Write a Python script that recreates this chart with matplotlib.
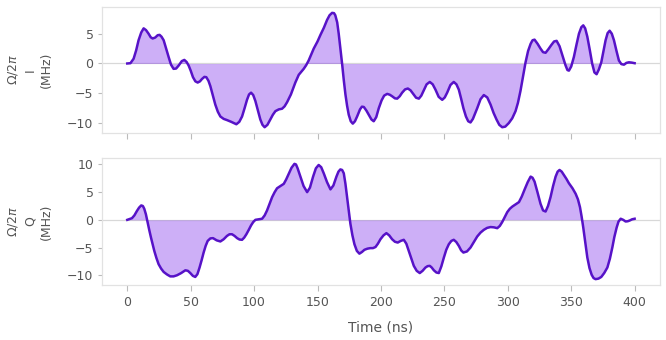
import matplotlib
matplotlib.use("Agg")
import matplotlib.pyplot as plt

time_i = [0, 2.5, 5, 7, 8.9, 11, 12.9, 14.8, 16.8, 18.5, 20, 22, 24, 25.5, 27, 28.7,
          30.5, 32.6, 34.5, 36.5, 38.5, 40.5, 43, 45, 46.8, 48.4, 50, 51.8, 53.7,
          55.5, 57.3, 58.9, 60.8, 62.3, 64, 65.5, 67.5, 69.4, 71.4, 73.4, 76, 78.6,
          82, 86, 88.3, 90.5, 92.5, 94.4, 96, 97.6, 99.3, 101, 103, 104.9, 106.6,
          108.3, 110.5, 112.8, 114.8, 116.8, 119.5, 122, 124, 126, 129, 132.5,
          135.2, 139.1, 141, 143, 147, 150, 152.3, 155, 157.5, 159.5, 161.5, 163,
          164, 165.5, 166.7, 168, 169.4, 170.7, 172, 173.3, 174.6, 176.2, 177.8,
          179.5, 181.2, 183.5, 185, 186.5, 188.5, 190.4, 192.5, 194.3, 196.3,
          198.3, 200.5, 202.5, 204.9, 207, 208.8, 211, 212.8, 214.8, 216.7, 219,
          221.2, 223.3, 225.4, 227.7, 229.9, 231.8, 233.8, 236, 238.5, 240.8, 243,
          245.5, 248.3, 250.3, 252.2, 254.8, 257.4, 259.5, 261.4, 263.2, 265, 267,
          268.8, 270.6, 272.5, 275.9, 278.5, 281.1, 283.8, 286.4, 288.8, 291.1,
          293.3, 295.6, 298, 300.8, 303.5, 306.1, 308, 310, 312, 314, 316, 318,
          319.5, 321.1, 323.5, 325.8, 327.8, 329.8, 332, 334.3, 336.5, 338.5,
          340.8, 343, 345.5, 347, 348.2, 350, 352.1, 354.2, 356.1, 358, 359.5, 361,
          362.7, 364.7, 366.6, 368.3, 370, 371.8, 373.7, 375.5, 377.1, 378.7,
          380.3, 382, 383.7, 385.7, 387.6, 389.5, 391.6, 393.5, 395.5, 397.7, 400]
omega_i = [0, 0.05, 0.8, 2.2, 3.9, 5.2, 5.9, 5.6, 5.0, 4.4, 4.2, 4.35, 4.75, 4.8, 4.5, 3.9,
           2.6, 1.1, -0.2, -0.9, -0.85, -0.35, 0.4, 0.6, 0.25, -0.35, -1.2, -2.3, -3.0,
           -3.2, -3.0, -2.6, -2.25, -2.3, -2.9, -3.8, -5.4, -6.9, -8.1, -8.9, -9.3, -9.5,
           -9.8, -10.2, -9.8, -8.9, -7.5, -6.1, -5.2, -4.9, -5.3, -6.3, -7.9, -9.4, -10.3,
           -10.7, -10.3, -9.4, -8.6, -8.0, -7.7, -7.6, -7.2, -6.5, -5.2, -3.2,
           -1.9, -0.9, -0.3, 0.5, 2.5, 3.7, 4.8, 6.0, 7.3, 8.1, 8.5, 8.45,
           8.1, 6.9, 5.0, 2.6, -0.1, -2.8, -5.2, -7.1, -8.6, -9.7, -10.1,
           -9.7, -8.9, -7.7, -7.25, -7.3, -7.9, -8.6, -9.4, -9.7, -9.0,
           -7.5, -6.2, -5.4, -5.1, -5.25, -5.5, -5.85, -5.9, -5.5, -4.9, -4.35,
           -4.2, -4.5, -5.1, -5.75, -5.9, -5.4, -4.5, -3.5, -3.1, -3.5, -4.4,
           -5.6, -6.1, -5.7, -4.9, -3.6, -3.1, -3.5, -4.4, -5.9, -7.5, -8.9,
           -9.7, -9.9, -9.3, -7.5, -6.0, -5.3, -5.7, -6.9, -8.3, -9.4,
           -10.3, -10.7, -10.6, -10.0, -9.2, -8.0, -6.6, -4.6, -2.2, 0.2, 2.1, 3.3,
           3.9, 4.0, 3.3, 2.5, 1.9, 1.8, 2.4, 3.1, 3.7, 3.8,
           2.9, 1.4, -0.3, -1.1, -1.2, -0.5, 1.1, 3.2, 5.0, 6.1, 6.4, 5.9,
           4.5, 2.2, -0.1, -1.5, -1.8, -1.0, 0.2, 2.2, 3.9, 5.1,
           5.5, 5.0, 3.9, 2.1, 0.5, -0.1, -0.2, 0.1, 0.2, 0.15, 0.05]

time_q = [0, 3.7, 5.6, 7.6, 9.3, 11, 12.3, 13.4, 14.7, 16, 17.3, 18.7, 21.3, 23, 24.7,
          26.7, 28.7, 31.3, 33.9, 36.5, 39.2, 42.5, 45.8, 47.8, 49.7, 51.7, 53.6, 55.3,
          57, 58.6, 60.2, 61.8, 63.4, 65.5, 67.6, 70.5, 73.4, 76, 78.6, 80.6, 82.6,
          84.6, 86.6, 88.5, 90.5, 92.2, 93.9, 95.8, 97.6, 99.3, 101, 103.5, 106.3,
          108.3, 110.2, 112.2, 114.2, 116.2, 118.1, 120.8, 123.4, 125.3, 127.3,
          129.5, 131.8, 133, 134.3, 136.5, 139, 141.8, 144, 146.5, 148.7, 150.9,
          152.9, 154.9, 157.5, 160.2, 162.5, 164.9, 166.5, 168, 169.4, 170.7, 172,
          173.3, 174.6, 175.9, 177.5, 179.1, 181, 183, 185, 187, 189.3, 191.7,
          193.7, 195.7, 197.6, 199.6, 202, 204.3, 206.5, 208.8, 211, 213.2, 215.6,
          218, 220, 221.9, 224, 225.9, 228.2, 230.6, 232.8, 235.1, 236.8, 238.5,
          240, 241.7, 243.7, 245.6, 247.6, 249.6, 251.5, 253.5, 255.5, 257.4,
          259.4, 261.4, 263.2, 265, 267.8, 270.6, 273.3, 275.9, 278.5, 281.1,
          283.7, 286.4, 289, 291.7, 293.7, 295.6, 297.6, 299.6, 301.6, 303.6,
          306.2, 308.8, 311, 313.3, 315.7, 318, 319.5, 321.1, 323.5, 325.8, 327.8,
          329.8, 331.7, 333.7, 335.7, 337.7, 339.3, 340.8, 342.5, 344.2, 346.2,
          348.2, 351, 353.5, 355.3, 356.9, 358.2, 359.5, 361, 362.7, 364.4, 366.1,
          367.6, 369.2, 371.5, 373.7, 376, 378.5, 380.5, 382.4, 384, 385.8, 387.3,
          389, 391, 392.9, 394.6, 396.3, 398, 400]
omega_q = [0, 0.3, 0.8, 1.6, 2.2, 2.6, 2.5, 2.0, 1.0, -0.4, -1.8, -3.2, -5.6, -6.9, -8.0,
           -8.8, -9.4, -9.85, -10.2, -10.2, -10.0, -9.6, -9.1, -9.2, -9.6, -10.1, -10.3, -9.8,
           -8.6, -7.3, -5.9, -4.7, -3.8, -3.35, -3.3, -3.7, -3.9, -3.5, -2.9, -2.6, -2.6,
           -2.9, -3.3, -3.55, -3.6, -3.2, -2.6, -1.8, -1.0, -0.4, 0, 0.1, 0.2,
           0.8, 1.7, 2.9, 4.1, 5.0, 5.7, 6.1, 6.5, 7.3, 8.3,
           9.4, 10.1, 10.0, 9.3, 7.8, 6.1, 5.0, 5.8, 7.8, 9.3, 9.9,
           9.5, 8.4, 6.8, 5.5, 6.2, 7.8, 8.7, 9.1, 9.0, 8.4, 6.5,
           4.1, 1.6, -0.7, -2.8, -4.4, -5.6, -6.1, -5.8, -5.4, -5.2, -5.1,
           -5.1, -4.9, -4.3, -3.5, -2.8, -2.4, -2.8, -3.5, -3.95, -4.1, -3.8,
           -3.6, -4.3, -5.6, -7.0, -8.3, -9.2, -9.6, -9.2, -8.6, -8.35, -8.3,
           -8.6, -9.1, -9.5, -9.6, -8.4, -6.8, -5.4, -4.4, -3.8, -3.6,
           -4.0, -4.7, -5.5, -5.9, -5.7, -5.0, -4.0, -3.0, -2.3, -1.8,
           -1.45, -1.3, -1.35, -1.5, -1.1, -0.4, 0.5, 1.4, 2.0, 2.4,
           2.8, 3.2, 4.2, 5.5, 6.8, 7.8, 7.6, 6.9, 4.9, 2.9, 1.7,
           1.5, 2.5, 4.1, 6.1, 7.8, 8.7, 9.0, 8.7, 8.1, 7.4,
           6.6, 5.7, 4.7, 3.7, 2.3, 0.6, -1.4, -4.0, -6.8, -8.7, -9.9,
           -10.5, -10.7, -10.6, -10.3, -9.6, -8.6, -7.0, -5.0, -3.1, -1.4, -0.3,
           0.2, 0.0, -0.3, -0.25, -0.1, 0.1, 0.2]

quadratures = ["I", "Q"]

line_color = "#5712C8"
fill_color = "#680CE9"
text_color = "#555555"
frame_color = "#e2e2e2"

plt.rcParams["font.family"] = ["DejaVu Sans"]
plt.rcParams["font.size"] = 9

fig = plt.figure(figsize=(6.66, 3.4), dpi=100)
ax_i = fig.add_axes([0.153, 0.609, 0.838, 0.370])
ax_q = fig.add_axes([0.153, 0.162, 0.838, 0.373], sharex=ax_i)

for ax, t, w, name in [(ax_i, time_i, omega_i, quadratures[0]),
                       (ax_q, time_q, omega_q, quadratures[1])]:
    ax.axhline(0, color="#d8d8d8", lw=0.9, zorder=1)
    ax.fill_between(t, w, 0, color=fill_color, alpha=0.33, lw=0, zorder=2)
    ax.plot(t, w, color=line_color, lw=1.8, solid_joinstyle="round", zorder=3)
    ax.set_ylabel("$\\Omega/2\\pi$\n%s\n(MHz)" % name, color=text_color,
                  fontsize=9, linespacing=1.35, labelpad=10)
    for s in ax.spines.values():
        s.set_color(frame_color)
        s.set_linewidth(0.9)
    ax.tick_params(axis="y", length=3, width=0.8, color="#bbbbbb",
                   labelcolor=text_color, labelsize=9, pad=3)
    ax.tick_params(axis="x", length=4, width=0.8, color="#bbbbbb",
                   labelcolor=text_color, labelsize=9, pad=4)

ax_i.set_yticks([-10, -5, 0, 5])
ax_q.set_yticks([-10, -5, 0, 5, 10])
ax_q.set_xticks(range(0, 401, 50))
ax_i.tick_params(axis="x", labelbottom=False)
ax_q.set_xlabel("Time (ns)", color=text_color, fontsize=10, labelpad=8)

fig.savefig("out.png", dpi=100)
